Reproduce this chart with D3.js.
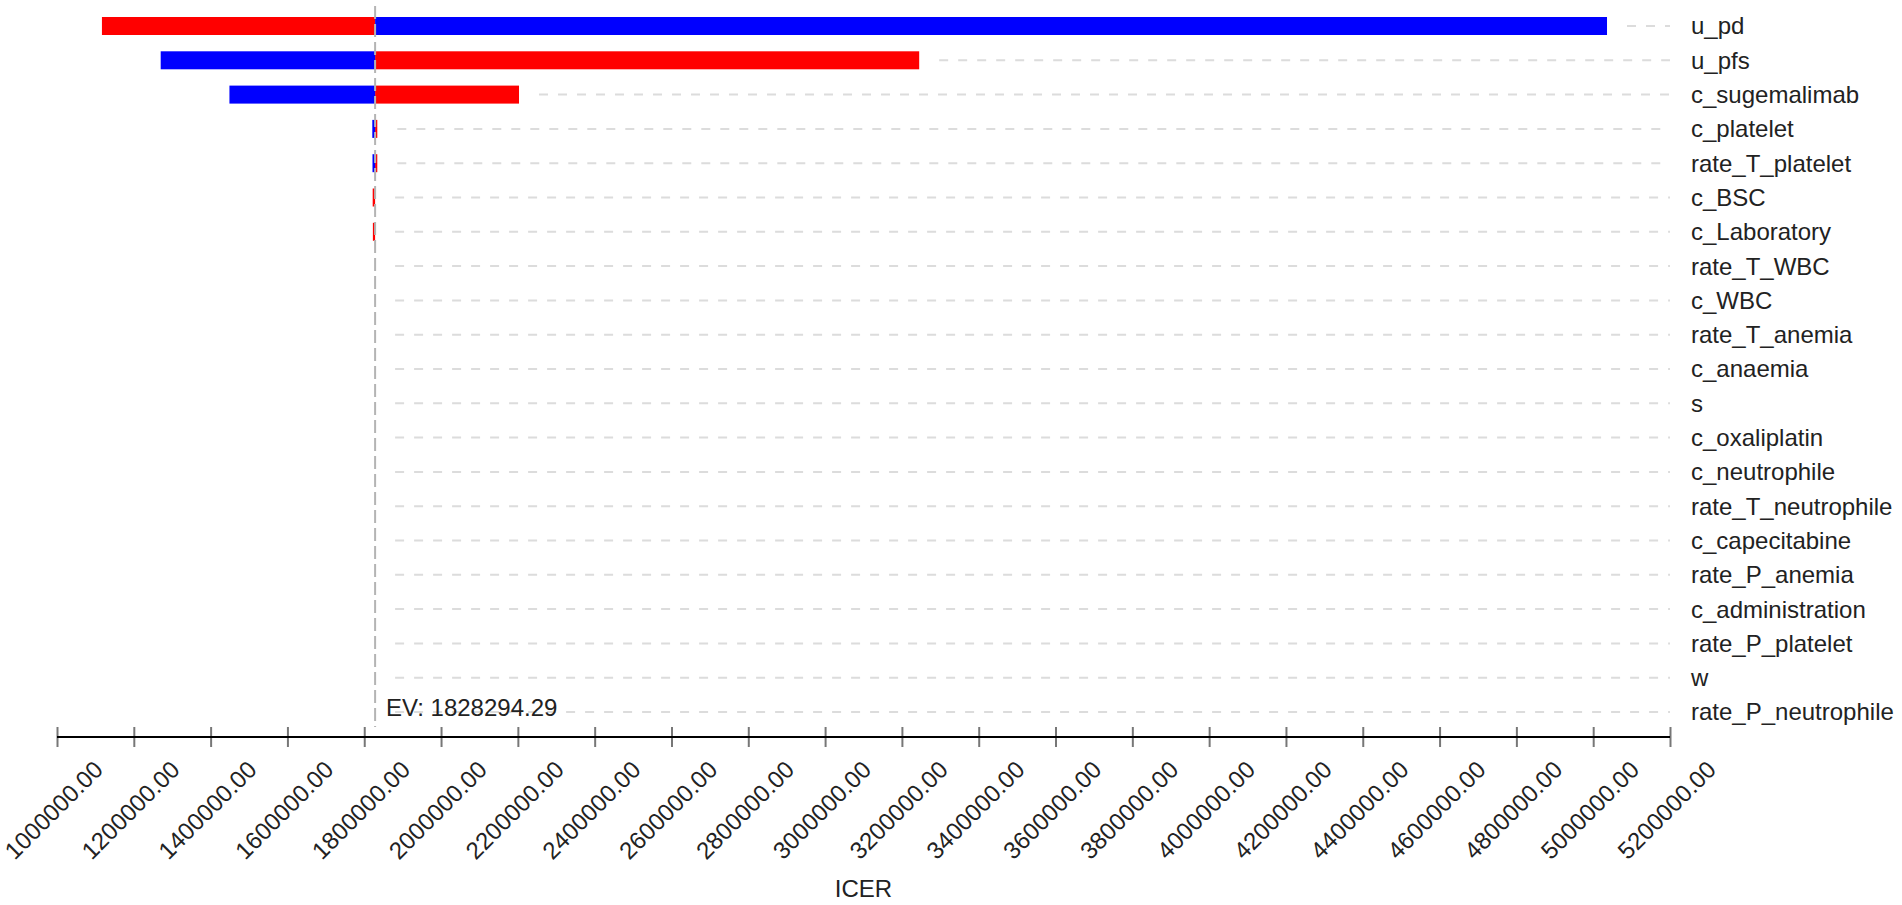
<!DOCTYPE html>
<html>
<head>
<meta charset="utf-8">
<script src="https://cdn.jsdelivr.net/npm/d3@7"></script>
<style>
  body { margin: 0; background: #fff; }
  svg text { font-family: "Liberation Sans", Arial, sans-serif; }
</style>
</head>
<body>
<div id="chart"></div>
<script>
// Parameters, top to bottom
const params = [
  "u_pd", "u_pfs", "c_sugemalimab", "c_platelet", "rate_T_platelet",
  "c_BSC", "c_Laboratory", "rate_T_WBC", "c_WBC", "rate_T_anemia",
  "c_anaemia", "s", "c_oxaliplatin", "c_neutrophile", "rate_T_neutrophile",
  "c_capecitabine", "rate_P_anemia", "c_administration", "rate_P_platelet",
  "w", "rate_P_neutrophile",
];

// ICER at the red end and the blue end of each bar
const redValues = [
  1117000, 3245000, 2203000, 1834000, 1834000,
  1822000, 1822500, 1828294.29, 1828294.29, 1828294.29,
  1828294.29, 1828294.29, 1828294.29, 1828294.29, 1828294.29,
  1828294.29, 1828294.29, 1828294.29, 1828294.29, 1828294.29, 1828294.29,
];
const blueValues = [
  5036000, 1270000, 1449000, 1821000, 1821500,
  1828294.29, 1828294.29, 1828294.29, 1828294.29, 1828294.29,
  1828294.29, 1828294.29, 1828294.29, 1828294.29, 1828294.29,
  1828294.29, 1828294.29, 1828294.29, 1828294.29, 1828294.29, 1828294.29,
];

const ev = 1828294.29;
const tickValues = [
  1000000, 1200000, 1400000, 1600000, 1800000, 2000000, 2200000,
  2400000, 2600000, 2800000, 3000000, 3200000, 3400000, 3600000,
  3800000, 4000000, 4200000, 4400000, 4600000, 4800000, 5000000, 5200000,
];

const width = 1902,
  height = 905;
const axisY = 737;

const svg = d3
  .select("#chart")
  .append("svg")
  .attr("width", width)
  .attr("height", height);

const xScale = d3.scaleLinear().domain([1000000, 5200000]).range([57, 1670]);
const yScale = d3.scalePoint().domain(params).range([26, 712]);
const barH = 18;

const rows = params.map((p, i) => ({
  param: p,
  red: redValues[i],
  blue: blueValues[i],
}));

// Dashed guide lines from the bar end to the labels
svg
  .append("g")
  .selectAll("line")
  .data(rows)
  .enter()
  .append("line")
  .attr("x1", (d) => xScale(Math.max(d.red, d.blue, ev)) + 20)
  .attr("x2", 1670)
  .attr("y1", (d) => yScale(d.param))
  .attr("y2", (d) => yScale(d.param))
  .attr("stroke", "#dcdcdc")
  .attr("stroke-width", 2)
  .attr("stroke-dasharray", "9,10");

// Bars, drawn from the EV to each end
const bars = svg.append("g");
[
  ["red", "#ff0000"],
  ["blue", "#0000ff"],
].forEach(([key, color]) => {
  bars
    .selectAll(`rect.${key}`)
    .data(rows.filter((d) => d[key] !== ev))
    .enter()
    .append("rect")
    .attr("class", key)
    .attr("x", (d) => xScale(Math.min(d[key], ev)))
    .attr("y", (d) => yScale(d.param) - barH / 2)
    .attr("width", (d) => Math.abs(xScale(d[key]) - xScale(ev)))
    .attr("height", barH)
    .attr("fill", color);
});

// EV line
svg
  .append("line")
  .attr("x1", xScale(ev))
  .attr("x2", xScale(ev))
  .attr("y1", 6)
  .attr("y2", 727)
  .attr("stroke", "#b4b4b4")
  .attr("stroke-width", 2)
  .attr("stroke-dasharray", "13,5");

svg
  .append("text")
  .attr("x", xScale(ev) + 11)
  .attr("y", 716)
  .style("font-size", "24px")
  .attr("fill", "#222")
  .text(`EV: ${d3.format(".2f")(ev)}`);

// Parameter labels
svg
  .append("g")
  .selectAll("text")
  .data(params)
  .enter()
  .append("text")
  .attr("x", 1691)
  .attr("y", (d) => yScale(d))
  .attr("dy", "0.35em")
  .style("font-size", "24px")
  .attr("fill", "#222")
  .text((d) => d);

// X axis
const axis = svg
  .append("g")
  .attr("transform", `translate(0,${axisY})`)
  .call(
    d3
      .axisBottom(xScale)
      .tickValues(tickValues)
      .tickSize(10)
      .tickFormat(d3.format(".2f"))
  );

axis.select(".domain").remove();
axis
  .append("line")
  .attr("x1", xScale(1000000))
  .attr("x2", xScale(5200000))
  .attr("stroke", "#000")
  .attr("stroke-width", 2);

axis
  .selectAll(".tick line")
  .attr("y1", -10)
  .attr("y2", 10)
  .attr("stroke", "#777")
  .attr("stroke-width", 2);

axis
  .selectAll(".tick text")
  .attr("y", 0)
  .attr("dy", 0)
  .attr("text-anchor", "end")
  .attr("transform", "translate(47,34) rotate(-45)")
  .style("font-size", "24px")
  .style("font-family", '"Liberation Sans", Arial, sans-serif')
  .attr("fill", "#222");

// Axis title
svg
  .append("text")
  .attr("x", (xScale(1000000) + xScale(5200000)) / 2)
  .attr("y", 897)
  .attr("text-anchor", "middle")
  .style("font-size", "24px")
  .attr("fill", "#222")
  .text("ICER");
</script>
</body>
</html>
